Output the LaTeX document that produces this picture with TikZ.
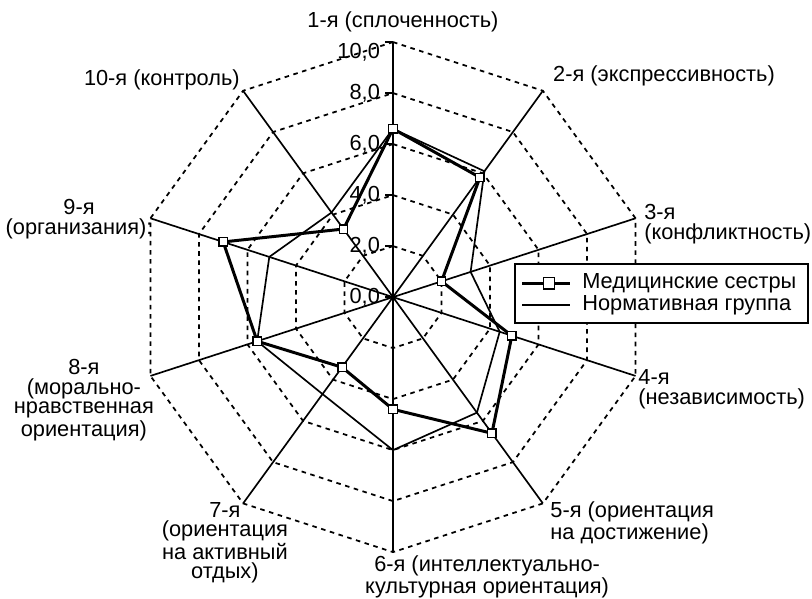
\documentclass[tikz,border=0pt]{standalone}
\usepackage{fontspec}
\setmainfont{Liberation Sans}
\usepackage{tikz}
\colorlet{darkgrid}{black}

\begin{document}
\begin{tikzpicture}[x=0.51cm,y=0.51cm,
  font=\fontsize{12.4}{11.1}\selectfont,
  gridline/.style={darkgrid,line width=1pt,dash pattern=on 2.6pt off 2.6pt},
  spoke/.style={line width=0.95pt},
  nurses/.style={line width=1.7pt,line join=round},
  norm/.style={line width=0.95pt,line join=round},
  sqmark/.style={draw,fill=white,line width=0.8pt,minimum size=4.8pt,inner sep=0pt},
  title/.style={inner sep=0pt}]
\useasboundingbox (-15.41,-11.80) rectangle (16.43,11.65);
\foreach \r in {2,4,...,10}
  \draw[gridline] (90:\r) \foreach \k in {1,...,9}{ -- ({90-36*\k}:\r) } -- cycle;
\foreach \k in {1,...,10}
  \draw[spoke] (0,0) coordinate (o) -- ({126-36*\k}:10) coordinate (ax\k);
\draw[line width=1.4pt] (ax1) -- (ax6);
\foreach \v in {0,2,...,8}{
  \draw[spoke] (-0.31,\v) coordinate (tk\v) -- (0,\v);
  \node[anchor=east,inner sep=0pt] (val\v) at (-0.5,\v) {\v,0};
}
\draw[spoke] (-0.31,10) coordinate (tk10) -- (ax1);
\node[anchor=east,inner sep=0pt] (val10) at (-0.5,9.6) {10,0};
\foreach \v [count=\k] in {6.6,6.1,3.2,4.4,5.6,6.0,4.7,5.6,5.1,4.1}
  \coordinate (n\k) at ({126-36*\k}:\v);
\foreach \v [count=\k] in {6.6,5.8,2.0,4.9,6.6,4.4,3.4,5.6,7.0,3.3}
  \coordinate (m\k) at ({126-36*\k}:\v);
\draw[norm] (n1) \foreach \k in {2,...,10}{ -- (n\k) } -- cycle;
\draw[nurses] (m1) \foreach \k in {2,...,10}{ -- (m\k) } -- cycle;
\foreach \k in {1,...,10} \node[sqmark] (sq\k) at (m\k) {};
\node[title] (lab1) at (0.39,10.78) {1-я (сплоченность)};
\node[title,anchor=west] (lab2) at (6.27,8.67) {2-я (экспрессивность)};
\node[title,anchor=west,align=left] (lab3) at (9.84,2.86) {3-я\\(конфликтность)};
\node[title,anchor=west,align=left] (lab4) at (9.61,-3.61) {4-я\\(независимость)};
\node[title,anchor=west,align=left] (lab5) at (6.16,-8.84) {5-я (ориентация\\на достижение)};
\node[title,align=center] (lab6) at (3.69,-10.98) {6-я (интеллектуально-\\культурная ориентация)};
\node[title,align=center] (lab7) at (-6.59,-9.63) {7-я\\(ориентация\\на активный\\отдых)};
\node[title,align=center] (lab8) at (-12.12,-4.04) {8-я\\(морально-\\нравственная\\ориентация)};
\node[title,align=center] (lab9) at (-12.31,3.06) {9-я\\(организания):};
\node[title,anchor=east] (lab10) at (-6.0,8.51) {10-я (контроль)};
\node[draw,fill=white,line width=0.9pt,minimum width=5.86cm,minimum height=1.18cm,inner sep=0pt] (legend) at (10.53,0.14) {};
\coordinate (la1) at (5.06,0.54);
\coordinate (lb1) at (6.94,0.54);
\coordinate (la2) at (5.06,-0.31);
\coordinate (lb2) at (6.94,-0.31);
\draw[nurses] (la1) -- (lb1);
\node[sqmark,minimum size=6.4pt] (lsq) at (6.12,0.54) {};
\draw[norm] (la2) -- (lb2);
\node[anchor=west,inner sep=0pt] (leg1) at (7.41,0.54) {Медицинские сестры};
\node[anchor=west,inner sep=0pt] (leg2) at (7.41,-0.31) {Нормативная группа};
\end{tikzpicture}
\end{document}
